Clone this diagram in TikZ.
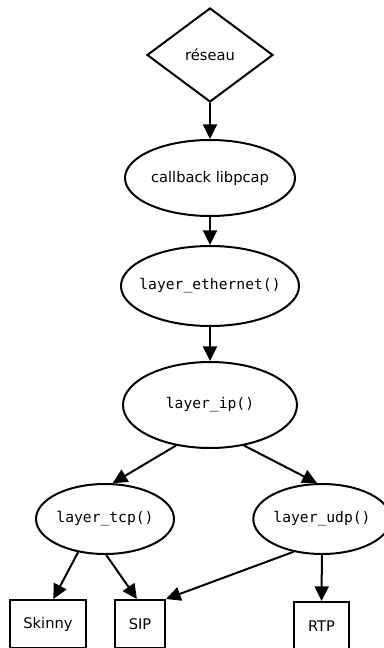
\documentclass[tikz,border=0pt]{standalone}
\usepackage{fontspec}
\setmainfont{DejaVu Sans}
\setmonofont{DejaVu Sans Mono}
\usetikzlibrary{arrows.meta, shapes.geometric}
\tikzset{
  every picture/.style={line width=1.5pt},
  bubble/.style={draw, ellipse, inner sep=0pt, font=\fontsize{11}{13}\selectfont},
  layer/.style={bubble, font=\fontsize{11}{13}\selectfont\ttfamily},
  proto/.style={draw, rectangle, inner sep=0pt, minimum height=36pt, font=\fontsize{11}{13}\selectfont},
  arrow/.style={-{Triangle[length=11pt, width=10.5pt]}},
}

\begin{document}
\begin{tikzpicture}[x=0.75pt, y=-0.75pt]
  \useasboundingbox (0,0) rectangle (383,648);
  \node[draw, diamond, minimum width=94.5pt, minimum height=70.5pt, inner sep=0pt,
        font=\fontsize{11}{13}\selectfont] (reseau) at (210,55) {réseau};
  \node[bubble, minimum width=127.5pt, minimum height=57pt] (cb) at (210,178) {callback libpcap};
  \node[layer, inner xsep=-6pt, minimum width=133.5pt, minimum height=60pt] (eth) at (210,286) {layer\_ethernet()};
  \node[layer, minimum width=130.5pt, minimum height=64.5pt] (ip) at (210,405) {layer\_ip()};
  \node[layer, minimum width=103.5pt, minimum height=52.5pt] (tcp) at (105,519) {layer\_tcp()};
  \node[layer, minimum width=103pt, minimum height=52.5pt] (udp) at (322,519) {layer\_udp()};
  \node[proto, minimum width=57pt] (skinny) at (48,624) {Skinny};
  \node[proto, minimum width=37.5pt] (sip) at (140,624) {SIP};
  \node[proto, minimum width=41.25pt] (rtp) at (321.5,626) {RTP};
  \draw[arrow] (reseau) -- (cb);
  \draw[arrow] (cb) -- (eth);
  \draw[arrow] (eth) -- (ip);
  \draw[arrow] (ip.230) -- (tcp.78);
  \draw[arrow] (ip.310) -- (udp.98);
  \draw[arrow] (tcp.231) -- (skinny.78);
  \draw[arrow] (tcp.272) -- (sip.97);
  \draw[arrow] (udp.229) -- (sip.north east);
  \draw[arrow] (udp) -- (rtp);
\end{tikzpicture}
\end{document}
